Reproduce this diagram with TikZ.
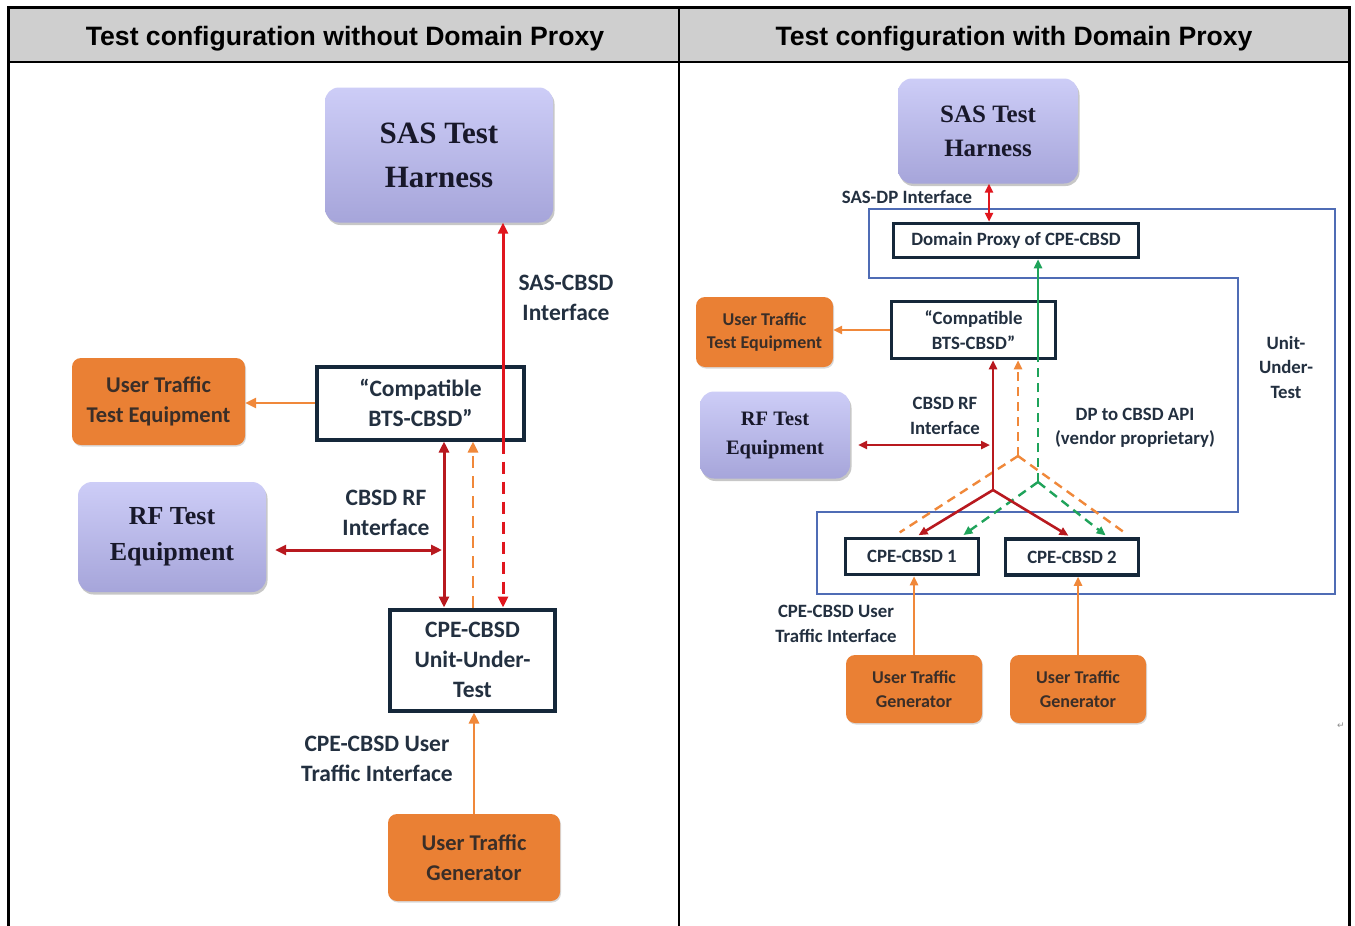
\documentclass[tikz,border=0pt]{standalone}
\usepackage{fontspec}
\setmainfont{Carlito}
\newfontfamily\hdrfont{Liberation Sans}
\newfontfamily\tmsfont{Liberation Serif}
\newfontfamily\symfont{DejaVu Sans}
\usetikzlibrary{arrows.meta,shadows}
\definecolor{lavtop}{HTML}{CDCDF7}
\definecolor{lavbot}{HTML}{A6A5DA}
\definecolor{orabox}{HTML}{EA8034}
\definecolor{oratext}{HTML}{3A2E28}
\definecolor{boxc}{HTML}{15283A}
\definecolor{redA}{HTML}{E0161E}
\definecolor{redB}{HTML}{B8191F}
\definecolor{oraA}{HTML}{F0883A}
\definecolor{greenA}{HTML}{1FA35A}
\definecolor{blueA}{HTML}{4F6CB5}
\definecolor{lblc}{HTML}{233040}
\definecolor{hdrgray}{HTML}{CFCFCF}
\definecolor{serifc}{HTML}{18182A}
\begin{document}
\begin{tikzpicture}[x=1pt,y=-1pt,
  lav/.style={rounded corners=14pt, top color=lavtop, bottom color=lavbot, draw=none,
    align=center, text=serifc, inner sep=0pt,
    drop shadow={shadow xshift=1.5pt, shadow yshift=-2.5pt, opacity=0.22, fill=black}},
  ora/.style={rounded corners=9pt, fill=orabox, draw=none, align=center, text=oratext, inner sep=0pt,
    drop shadow={shadow xshift=1pt, shadow yshift=-1.5pt, opacity=0.15, fill=black}},
  dbox/.style={draw=boxc, fill=white, align=center, text=lblc, inner sep=0pt},
  labeltxt/.style={text=lblc, align=center, inner sep=0pt},
  fL/.style={font=\bfseries\fontsize{23.5}{30}\selectfont},
  fLo/.style={font=\bfseries\fontsize{22.5}{30}\selectfont},
  fR/.style={font=\bfseries\fontsize{18.8}{24.5}\selectfont},
  fRo/.style={font=\bfseries\fontsize{18}{23.5}\selectfont},
  tipL/.style={-{Triangle[length=11pt,width=10pt]}},
  tipR/.style={-{Triangle[length=9pt,width=8pt]}},
  dtipL/.style={{Triangle[length=11pt,width=10pt]}-{Triangle[length=11pt,width=10pt]}},
  dtipR/.style={{Triangle[length=9pt,width=8pt]}-{Triangle[length=9pt,width=8pt]}},
  dashL/.style={dash pattern=on 12pt off 8pt},
  dashR/.style={dash pattern=on 9pt off 6pt}
]
\useasboundingbox (0,0) rectangle (1355,926);
\fill[white] (0,0) rectangle (1355,926);
% table
\fill[hdrgray] (8,7) rectangle (1349,62);
\draw[line width=3pt] (8,926) -- (8,7) -- (1349,7) -- (1349,926);
\draw[line width=2.2pt] (8,62) -- (1349,62);
\draw[line width=2.2pt] (679,7) -- (679,926);
\node[font=\hdrfont\bfseries\fontsize{26.6}{30}\selectfont] (h1) at (345,39) {Test configuration without Domain Proxy};
\node[font=\hdrfont\bfseries\fontsize{26.6}{30}\selectfont] (h2) at (1014,39) {Test configuration with Domain Proxy};

% right panel unit-under-test outline
\draw[blueA, line width=1.2pt] (869,209) -- (1335,209) -- (1335,594) -- (817,594) -- (817,512)
  -- (1238,512) -- (1238,278) -- (869,278) -- cycle;

% ---------- left panel nodes ----------
\node[lav, minimum width=228pt, minimum height=135pt, font=\tmsfont\bfseries\fontsize{31}{44}\selectfont] (sasL) at (439,155)
  {SAS Test\\Harness};
\node[dbox, fL, line width=4pt, minimum width=207pt, minimum height=73pt] (compL) at (420.5,403)
  {“Compatible\\BTS-CBSD”};
\node[ora, fLo, minimum width=173pt, minimum height=87pt] (utteL) at (158.5,401.5)
  {User Traffic\\Test Equipment};
\node[lav, minimum width=188pt, minimum height=110pt, font=\tmsfont\bfseries\fontsize{26}{36}\selectfont] (rfL) at (172,537)
  {RF Test\\Equipment};
\node[dbox, fL, line width=4pt, minimum width=165pt, minimum height=101pt] (cpeL) at (472.5,660)
  {CPE-CBSD\\Unit-Under-\\Test};
\node[ora, fLo, minimum width=172pt, minimum height=87pt] (utgL) at (474,857.5)
  {User Traffic\\Generator};

\node[labeltxt, fL] (lbSasCbsd) at (566,298) {SAS-CBSD\\Interface};
\node[labeltxt, fL] (lbRfL) at (386,513) {CBSD RF\\Interface};
\node[labeltxt, fL] (lbUtiL) at (377,759) {CPE-CBSD User\\Traffic Interface};

% ---------- left panel connectors ----------
\coordinate (rfjL) at (442,550);
\draw[redA, line width=3pt, tipL] (compL.south -| 503,0) -- (sasL.south -| 503,0);
\draw[redA, line width=3pt, dashL, tipL] (compL.south -| 503,0) -- (cpeL.north -| 503,0);
\draw[redB, line width=3pt, dtipL] (compL.south -| 444,0) -- (cpeL.north -| 444,0);
\draw[oraA, line width=2.7pt, dashL, tipL] (cpeL.north -| 473,0) -- (compL.south -| 473,0);
\draw[redB, line width=3pt, dtipL, shorten <=9pt] (rfL.east |- rfjL) -- (rfjL);
\draw[oraA, line width=2.7pt, tipL] (compL.west) -- (compL.west -| utteL.east);
\draw[oraA, line width=2.7pt, tipL] (utgL.north) -- (utgL.north |- cpeL.south);

% ---------- right panel nodes ----------
\node[lav, minimum width=180pt, minimum height=105pt, font=\tmsfont\bfseries\fontsize{25}{34}\selectfont] (sasR) at (988,131)
  {SAS Test\\Harness};
\node[dbox, fR, line width=3.5pt, minimum width=245pt, minimum height=34pt] (dpR) at (1016,240.5)
  {Domain Proxy of CPE-CBSD};
\node[dbox, fR, line width=3.5pt, minimum width=164pt, minimum height=57pt] (compR) at (973.5,330)
  {“Compatible\\BTS-CBSD”};
\node[ora, fRo, minimum width=137pt, minimum height=70pt] (utteR) at (764.5,332)
  {User Traffic\\Test Equipment};
\node[lav, minimum width=150pt, minimum height=87pt, font=\tmsfont\bfseries\fontsize{20.5}{29}\selectfont] (rfR) at (775,435)
  {RF Test\\Equipment};
\node[dbox, fR, line width=3.5pt, minimum width=133pt, minimum height=36pt] (cpe1) at (912,556.5)
  {CPE-CBSD 1};
\node[dbox, fR, line width=3.5pt, minimum width=133pt, minimum height=36pt] (cpe2) at (1072,557)
  {CPE-CBSD 2};
\node[ora, fRo, minimum width=136pt, minimum height=68pt] (utg1) at (914,689)
  {User Traffic\\Generator};
\node[ora, fRo, minimum width=136pt, minimum height=68pt] (utg2) at (1078,689)
  {User Traffic\\Generator};

\node[labeltxt, fR] (lbSasDp) at (907,197) {SAS-DP Interface};
\node[labeltxt, fR] (lbRfR) at (945,416) {CBSD RF\\Interface};
\node[labeltxt, fR] (lbApi) at (1135,428) {DP to CBSD API\\(vendor proprietary)};
\node[labeltxt, fR] (lbUut) at (1286,367) {Unit-\\Under-\\Test};
\node[labeltxt, fR] (lbUtiR) at (836,624) {CPE-CBSD User\\Traffic Interface};
\node[text=black!45, inner sep=0pt, font=\symfont\fontsize{9}{10}\selectfont] (pmark) at (1341,726) {↵};

% ---------- right panel connectors ----------
\coordinate (gj) at (1038,482);
\coordinate (rj) at (993,490);
\coordinate (oj) at (1018,456);
\coordinate (rfjR) at (990,445);
\draw[redA, line width=2.6pt, dtipR] (sasR.south -| 989,0) -- (dpR.north -| 989,0);
% green DP to CBSD API
\draw[greenA, line width=2.4pt, tipR] (compR.south -| 1038,0) -- (dpR.south -| 1038,0);
\draw[greenA, line width=2.4pt, dashR] (gj) -- (compR.south -| 1038,0);
\draw[greenA, line width=2.4pt, dashR, tipR, shorten >=3pt] (gj) -- (cpe1.north -| 961,0);
\draw[greenA, line width=2.4pt, dashR, tipR, shorten >=3pt] (gj) -- (cpe2.north -| 1108,0);
% orange dashed
\draw[oraA, line width=2.4pt, dashR, tipR] (oj) -- (compR.south -| 1018,0);
\draw[oraA, line width=2.4pt, dashR, shorten >=8pt] (oj) -- (cpe1.north -| 893,0);
\draw[oraA, line width=2.4pt, dashR, shorten >=8pt] (oj) -- (cpe2.north -| 1131,0);
% red RF
\draw[redB, line width=2.6pt, tipR] (rj) -- (compR.south -| 993,0);
\draw[redB, line width=2.6pt, tipR, shorten >=3pt] (rj) -- (cpe1.north -| 916,0);
\draw[redB, line width=2.6pt, tipR, shorten >=3pt] (rj) -- (cpe2.north -| 1071,0);
\draw[redB, line width=2.6pt, dtipR, shorten <=8pt] (rfR.east |- rfjR) -- (rfjR);
% orange solid
\draw[oraA, line width=2.4pt, tipR] (compR.west) -- (compR.west -| utteR.east);
\draw[oraA, line width=2.4pt, tipR] (utg1.north) -- (utg1.north |- cpe1.south);
\draw[oraA, line width=2.4pt, tipR] (utg2.north) -- (utg2.north |- cpe2.south);
\end{tikzpicture}
\end{document}
